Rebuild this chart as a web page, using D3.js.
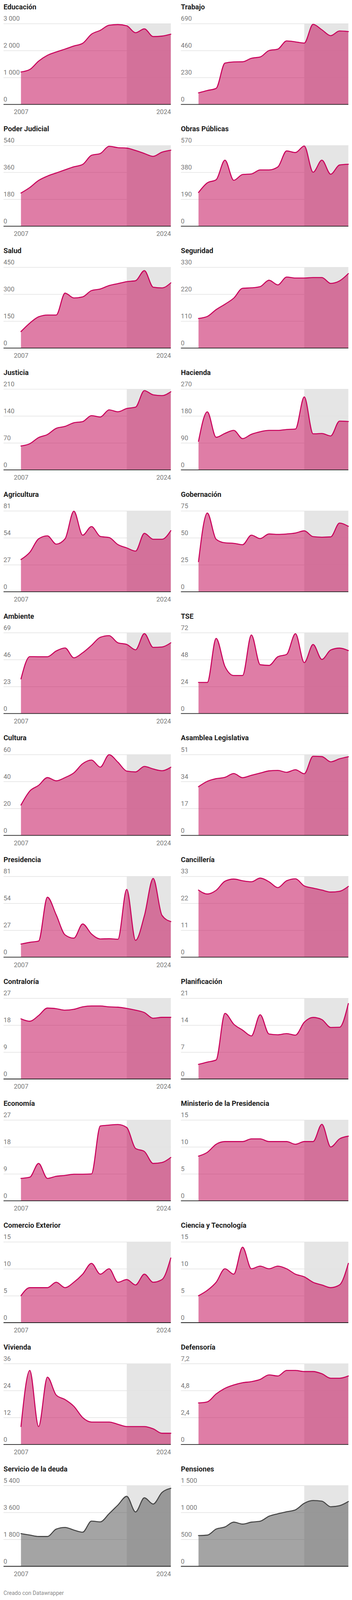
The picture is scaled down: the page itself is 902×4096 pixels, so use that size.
<!DOCTYPE html>
<html><head><meta charset="utf-8">
<script src="https://cdn.jsdelivr.net/npm/d3@7"></script>
<style>html,body{margin:0;padding:0;background:#fff}svg{display:block}</style>
</head><body><svg id="c"></svg>
<script>
const years = [2007,2008,2009,2010,2011,2012,2013,2014,2015,2016,2017,2018,2019,2020,2021,2022,2023,2024];
const shadeFrom = 2019;
const titles = ["Educación","Trabajo","Poder Judicial","Obras Públicas","Salud","Seguridad","Justicia","Hacienda","Agricultura","Gobernación","Ambiente","TSE","Cultura","Asamblea Legislativa","Presidencia","Cancillería","Contraloría","Planificación","Economía","Ministerio de la Presidencia","Comercio Exterior","Ciencia y Tecnología","Vivienda","Defensoría","Servicio de la deuda","Pensiones"];
const yTicks = [[0,1000,2000,3000],[0,230,460,690],[0,180,360,540],[0,190,380,570],[0,150,300,450],[0,110,220,330],[0,70,140,210],[0,90,180,270],[0,27,54,81],[0,25,50,75],[0,23,46,69],[0,24,48,72],[0,20,40,60],[0,17,34,51],[0,27,54,81],[0,11,22,33],[0,9,18,27],[0,7,14,21],[0,9,18,27],[0,5,10,15],[0,5,10,15],[0,5,10,15],[0,12,24,36],[0,2.4,4.8,7.2],[0,1800,3600,5400],[0,500,1000,1500]];
const xTickLabels = [2007, 2024];

const educacion = [1204,1296,1607,1821,1946,2054,2168,2268,2607,2750,2939,2964,2918,2661,2804,2518,2536,2607];
const trabajo = [99,119,137,353,363,364,394,405,460,472,542,534,524,684,637,587,627,622];
const poderJudicial = [222,259,306,335,356,377,397,413,474,486,534,525,522,506,486,467,495,508];
const obrasPublicas = [238,306,328,466,324,365,369,397,397,418,531,520,566,381,466,367,432,437];
const salud = [92,139,174,184,184,306,279,285,320,329,348,359,370,375,431,339,335,363];
const seguridad = [121,129,157,179,204,244,246,251,277,258,290,286,286,288,288,264,274,304];
const justicia = [62,68,84,92,108,113,122.5,125.5,141,137.5,156,151,159.5,163,206,195,193,203];
const hacienda = [95.5,194,109,122,132,104.5,119,127.6,132,132,135,136.6,244,120.5,121.5,113.5,163,161.7];
const agricultura = [32.3,39.5,53,56,47.7,53,80.7,56.7,65.3,55.4,54.3,47.2,43.9,40.7,58.5,52.6,52.6,61.2];
const gobernacion = [27.9,73,48.7,45.4,44.9,43.6,52.5,49.3,53.6,53.2,53.6,54.5,56.5,51.1,50.6,50.9,63.7,60.7];
const ambiente = [29.6,48.6,48.5,48.5,53.4,56,47.6,51.9,58.2,65.1,66.5,60.4,59,54.4,68.2,56.5,56.8,60.4];
const tse = [27.7,27.7,66.9,42,33.9,33.9,70,43.5,42.9,50.6,52.7,71.1,45.4,61.5,48.2,56.6,58.3,56.1];
const cultura = [22.5,32.9,37.1,42.9,40.5,42.9,46.4,53.2,55.9,50.7,59.9,54.3,47.7,47.1,51.2,49.3,48,50.6];
const asamblea = [30.7,34.1,35.8,36.6,39,36.4,37.9,39.3,40.7,41,39.8,41.4,38.9,49.9,49.7,46.4,48.3,49.6];
const presidencia = [13.2,14.9,16.2,60.1,42.4,22.4,19.1,33.3,23.3,18.3,18.5,18,68,16.9,41.5,78.9,41.9,35.7];
const cancilleria = [27.4,25.8,27.3,31,31.9,31.2,30.8,32.3,30.8,28.4,31.2,32,29.1,28.2,27.4,26.6,26.9,28.9];
const contraloria = [20.1,19.3,21.2,23.7,23.5,23,23.3,24.1,24.4,24.4,24.1,24,23.6,23,22.2,20.3,20.6,20.6];
const planificacion = [3.8,4.4,4.95,17.05,14.25,12.7,11.2,16.7,11.7,11.5,11.8,11.4,14.75,16,15.45,13.4,13.45,19.6];
const economia = [7.5,7.9,12.5,7.5,8.2,8.5,8.9,8.9,9,25,25.3,25.5,24.5,17.5,16.5,12.5,12.8,14.5];
const minPresidencia = [8.3,9,10.5,11,11,11,11.5,11.5,11,11,11,10.5,11,11,14.2,10,11.5,12];
const comercioExterior = [5,6.5,6.5,6.5,7.5,6.5,7.5,9,11,9,10,7.5,8,7,9,7.5,8,12];
const cienciaTecnologia = [5,6,7.5,10,9,14,10,10.5,10,10.5,10,9,8.5,7.5,7,6.5,7,11];
const vivienda = [8,33,8,30,22,20,17,12,10,10,10,9,8,8,8,7,5,5];
const defensoria = [3.7,3.8,4.5,5.0,5.3,5.5,5.6,5.8,6.2,6.1,6.6,6.6,6.5,6.5,6.3,5.9,5.9,6.1];
const servicioDeuda = [2186,2089,1993,1993,2488,2597,2422,2282,3021,2970,3516,4095,4674,3632,4577,4160,4932,5212];
const pensiones = [571,579,691,730,820,784,820,837,930,975,1013,1048,1170,1221,1209,1105,1125,1202];

const seriesList = [educacion,trabajo,poderJudicial,obrasPublicas,salud,seguridad,justicia,hacienda,agricultura,gobernacion,ambiente,tse,cultura,asamblea,presidencia,cancilleria,contraloria,planificacion,economia,minPresidencia,comercioExterior,cienciaTecnologia,vivienda,defensoria,servicioDeuda,pensiones];
const grayFrom = 24;

// layout in reference pixels
const W = 1220, H = 5542;
const svg = d3.select("#c").attr("width", 902).attr("height", 4096).attr("viewBox", `0 0 ${W} ${H}`);
svg.append("rect").attr("width", W).attr("height", H).attr("fill", "#fff");

const loc = d3.formatLocale({decimal: ",", thousands: " ", grouping: [3], currency: ["", ""]});
const fmt = loc.format(",");
const FONT = "Roboto, 'Noto Sans', sans-serif";
const cols = [{ax0: 12, dx0: 72.5, dx1: 592}, {ax0: 627, dx0: 688, dx1: 1207.5}];

seriesList.forEach((vals, i) => {
  const col = cols[i % 2], row = Math.floor(i / 2);
  const top = 81.7 + 421.97 * row, bottom = top + 280;
  const gray = i >= grayFrom;
  const lineC = gray ? "#444444" : "#c8005a";
  const areaC = gray ? "#505050" : "#c5135d";
  const ticks = yTicks[i];
  const x = d3.scaleLinear().domain([years[0], years[years.length - 1]]).range([col.dx0, col.dx1]);
  const y = d3.scaleLinear().domain([0, ticks[ticks.length - 1]]).range([bottom, top]);
  const g = svg.append("g");

  g.append("text").attr("x", col.ax0).attr("y", top - 49).text(titles[i])
    .attr("font-family", FONT).attr("font-weight", 700).attr("font-size", 24.5).attr("fill", "#1d1d1d");

  // highlighted range
  g.append("rect").attr("x", x(shadeFrom)).attr("y", top).attr("width", x(years[years.length - 1]) - x(shadeFrom)).attr("height", bottom - top).attr("fill", "#e5e5e5");

  // y axis: gridlines + labels
  const yAxis = d3.axisRight(y).tickValues(ticks).tickFormat(fmt).tickSize(col.dx1 - col.ax0);
  const ga = g.append("g").attr("transform", `translate(${col.ax0},0)`).call(yAxis);
  ga.select(".domain").remove();
  ga.selectAll(".tick line").attr("stroke", "#e2e2e2").attr("stroke-width", 2).attr("opacity", d => d === 0 ? 0 : 1);
  ga.selectAll(".tick text").attr("x", 0).attr("dy", 0).attr("y", -10).attr("text-anchor", "start")
    .attr("font-family", FONT).attr("font-size", 22.5).attr("fill", "#777777");

  const area = d3.area().curve(d3.curveMonotoneX).x((d, k) => x(years[k])).y0(bottom).y1(d => y(d));
  const line = d3.line().curve(d3.curveMonotoneX).x((d, k) => x(years[k])).y(d => y(d));
  g.append("path").attr("d", area(vals)).attr("fill", areaC).attr("fill-opacity", gray ? 0.52 : 0.55);
  g.append("path").attr("d", line(vals)).attr("fill", "none").attr("stroke", lineC).attr("stroke-width", 3.5).attr("stroke-linejoin", "round").attr("stroke-linecap", "round");

  // baseline
  g.append("line").attr("x1", col.ax0).attr("x2", col.dx1).attr("y1", bottom).attr("y2", bottom).attr("stroke", "#1d1d1d").attr("stroke-width", 2.5);

  if (i % 2 === 0) {
    const xAxis = d3.axisBottom(x).tickValues(xTickLabels).tickFormat(d3.format("d")).tickSize(0);
    const gx = g.append("g").attr("transform", `translate(0,${bottom})`).call(xAxis);
    gx.select(".domain").remove();
    gx.selectAll(".tick text").attr("y", 34).attr("dy", 0)
      .attr("text-anchor", d => d === years[years.length - 1] ? "end" : "middle")
      .attr("font-family", FONT).attr("font-size", 22.5).attr("fill", "#777777");
  }
});

svg.append("text").attr("x", 12).attr("y", 5525).text("Creado con Datawrapper")
  .attr("font-family", FONT).attr("font-size", 19).attr("fill", "#888888");
</script></body></html>
